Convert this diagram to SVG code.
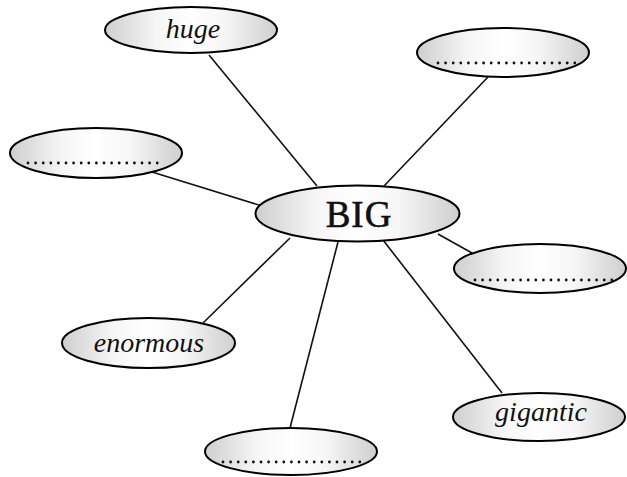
<svg xmlns="http://www.w3.org/2000/svg" width="627" height="477" viewBox="0 0 627 477">
<defs>
<linearGradient id="shade" x1="0" y1="0" x2="1" y2="0">
<stop offset="0" stop-color="#cfcfcf"/>
<stop offset="0.12" stop-color="#dedede"/>
<stop offset="0.3" stop-color="#f6f6f6"/>
<stop offset="0.5" stop-color="#ffffff"/>
<stop offset="0.7" stop-color="#f6f6f6"/>
<stop offset="0.88" stop-color="#dedede"/>
<stop offset="1" stop-color="#cfcfcf"/>
</linearGradient>
</defs>
<style>
.bubble{fill:url(#shade);stroke:#000;stroke-width:2}
.word{font-family:"Liberation Serif","DejaVu Serif",serif;font-style:italic;font-size:28px;fill:#111;text-anchor:middle}
.big{font-family:"Liberation Serif","DejaVu Serif",serif;font-size:37px;fill:#111;stroke:#111;stroke-width:0.6;text-anchor:middle;letter-spacing:1px}
.blank{stroke:#111;stroke-width:2.8;stroke-linecap:round;stroke-dasharray:0 7.6;fill:none}
.link{stroke:#111;stroke-width:1.6;fill:none}
</style>
<rect width="627" height="477" fill="#fff"/>
<g id="connectors">
<line class="link" x1="209" y1="55" x2="317" y2="186"/>
<line class="link" x1="488" y1="77" x2="384" y2="186"/>
<line class="link" x1="152" y1="172" x2="262" y2="206"/>
<line class="link" x1="438" y1="234" x2="472" y2="253"/>
<line class="link" x1="290" y1="238" x2="203" y2="323"/>
<line class="link" x1="338" y1="242" x2="290" y2="428"/>
<line class="link" x1="383" y1="240" x2="502" y2="393"/>
</g>
<g id="node-huge">
<ellipse class="bubble" cx="191" cy="30" rx="86" ry="23"/>
<text class="word" x="193" y="38">huge</text>
</g>
<g id="node-blank-topright">
<ellipse class="bubble" cx="503" cy="52.5" rx="86" ry="24.5"/>
<line class="blank" x1="438" y1="63" x2="576" y2="63"/>
</g>
<g id="node-blank-left">
<ellipse class="bubble" cx="96" cy="153" rx="86" ry="25"/>
<line class="blank" x1="28" y1="163" x2="164" y2="163"/>
</g>
<g id="node-big">
<ellipse class="bubble" cx="357.5" cy="213.5" rx="102" ry="28"/>
<text class="big" x="359" y="227">BIG</text>
</g>
<g id="node-blank-right">
<ellipse class="bubble" cx="540" cy="268.5" rx="86" ry="24.5"/>
<line class="blank" x1="475" y1="280" x2="612" y2="280"/>
</g>
<g id="node-enormous">
<ellipse class="bubble" cx="148.5" cy="343" rx="86.5" ry="25"/>
<text class="word" x="149" y="352">enormous</text>
</g>
<g id="node-gigantic">
<ellipse class="bubble" cx="539" cy="417" rx="86" ry="24"/>
<text class="word" x="541" y="421">gigantic</text>
</g>
<g id="node-blank-bottom">
<ellipse class="bubble" cx="291" cy="451.5" rx="86" ry="23.5"/>
<line class="blank" x1="223" y1="462" x2="360" y2="462"/>
</g>
</svg>
